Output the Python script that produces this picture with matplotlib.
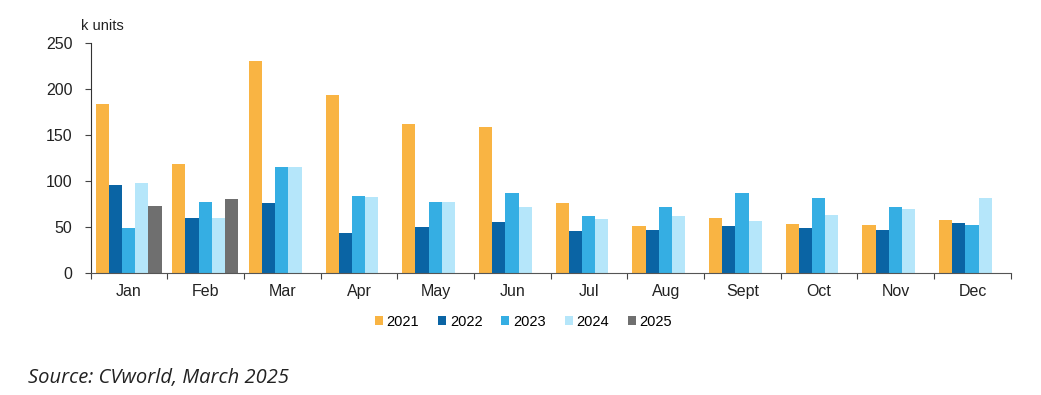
import numpy as np
import matplotlib.pyplot as plt

plt.rcParams["font.family"] = ["Liberation Sans", "DejaVu Sans"]

# datos (k units)
meses = ["Jan", "Feb", "Mar", "Apr", "May", "Jun", "Jul", "Aug", "Sept", "Oct", "Nov", "Dec"]
anios = ["2021", "2022", "2023", "2024", "2025"]

v2021 = [183, 118, 230, 193, 162, 158, 76, 51, 59, 53, 52, 57]
v2022 = [95, 59, 76, 43, 49, 55, 45, 46, 51, 48, 46, 54]
v2023 = [48, 77, 115, 83, 77, 86, 61, 71, 86, 81, 71, 52]
v2024 = [97, 59, 115, 82, 77, 71, 58, 62, 56, 63, 69, 81]
v2025 = [72, 80]

colores = ["#F9B443", "#0A64A4", "#35AEE3", "#B5E6FA", "#6F6F6F"]

series = [v2021, v2022, v2023, v2024, v2025]

fig = plt.figure(figsize=(10.41, 3.95), dpi=100)
ax = fig.add_axes([0.087, 0.31, 0.884, 0.582])

ancho = 0.172
offset = 0.065
x = np.arange(len(meses))
for k, (vals, col, lab) in enumerate(zip(series, colores, anios)):
    pos = x[:len(vals)] + offset + (k + 0.5) * ancho
    ax.bar(pos, vals, width=ancho, color=col, label=lab, linewidth=0)

ax.set_xlim(0, 12)
ax.set_ylim(0, 250)
ax.set_yticks(range(0, 251, 50))

# ticks en los bordes, etiquetas al centro
ax.set_xticks(np.arange(0, 13))
ax.set_xticklabels([])
ax.set_xticks(x + 0.5, minor=True)
ax.set_xticklabels(meses, minor=True)
ax.tick_params(axis="x", which="major", direction="out", length=4, color="#444444")
ax.tick_params(axis="x", which="minor", length=0, pad=8, labelsize=11.5, labelcolor="#222222")
ax.tick_params(axis="y", direction="out", length=4, pad=9, color="#444444", labelsize=11.5,
               labelcolor="#222222")

for s in ["top", "right"]:
    ax.spines[s].set_visible(False)
ax.spines["left"].set_color("#333333")
ax.spines["bottom"].set_color("#555555")

fig.text(0.078, 0.925, "k units", fontsize=10.5, color="#222222")

fig.legend(loc="center", bbox_to_anchor=(0.503, 0.185), ncol=5, frameon=False,
           fontsize=10.5, handlelength=0.55, handleheight=0.55, handletextpad=0.25,
           columnspacing=1.3)

fig.text(0.027, 0.03, "Source: CVworld, March 2025", fontsize=14.5, style="italic",
         family=["Open Sans", "DejaVu Sans"], color="#222222")

plt.savefig("out.png", dpi=100)
plt.close()
